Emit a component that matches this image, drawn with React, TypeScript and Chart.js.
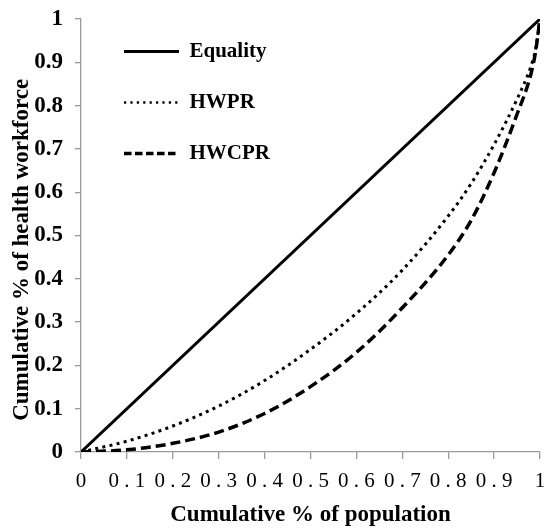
import React, { useEffect, useRef } from 'react';
import { Chart, registerables } from 'chart.js';

Chart.register(...registerables);

// Cumulative share of population (x) for the two Lorenz curves
const populationShare = [0, 0.1, 0.2, 0.3, 0.4, 0.5, 0.6, 0.7, 0.8, 0.85, 0.9, 0.95, 0.98, 0.99, 1];
// Cumulative share of health workforce
const hwprShare = [0, 0.025, 0.06, 0.106, 0.165, 0.237, 0.32, 0.42, 0.545, 0.62, 0.71, 0.815, 0.89, 0.928, 1];
const hwcprShare = [0, 0.005, 0.02, 0.046, 0.089, 0.151, 0.23, 0.333, 0.455, 0.535, 0.645, 0.78, 0.872, 0.922, 1];
// Line of equality
const equalityX = [0, 1];
const equalityY = [0, 1];

const seriesNames = ['Equality', 'HWPR', 'HWCPR'];
const xTitle = 'Cumulative % of population';
const yTitle = 'Cumulative % of health workforce';
const axisMin = 0;
const axisMax = 1;
const axisStep = 0.1;

const SERIF = '"Liberation Serif", "Times New Roman", serif';
const legendDash = [[], [2.2, 4.2], [7.5, 3.5]];
const legendWidth = [3, 2.5, 3.4];

function toPoints(xs: number[], ys: number[]) {
  return xs.map((x, i) => ({ x, y: ys[i] }));
}

function fmt(v: number) {
  return String(Number(Number(v).toFixed(1)));
}

const legendShift = {
  id: 'legendShift',
  afterLayout(chart: any) {
    const lg = chart.legend;
    if (lg) {
      lg.left = chart.chartArea.left + 13;
      lg.top = chart.chartArea.top - 8;
    }
  },
};

export default function App() {
  const ref = useRef<HTMLCanvasElement | null>(null);

  useEffect(() => {
    document.body.style.margin = '0';
    if (!ref.current) return;
    const defaultLabels = (Chart.defaults as any).plugins.legend.labels.generateLabels;
    const chart = new Chart(ref.current, {
      type: 'line',
      data: {
        datasets: [
          {
            label: seriesNames[0],
            data: toPoints(equalityX, equalityY),
            borderColor: '#000',
            backgroundColor: '#000',
            borderWidth: 3,
            pointRadius: 0,
            fill: false,
          },
          {
            label: seriesNames[1],
            data: toPoints(populationShare, hwprShare),
            borderColor: '#000',
            backgroundColor: '#000',
            borderWidth: 3,
            borderDash: [3, 4.3],
            pointRadius: 0,
            cubicInterpolationMode: 'monotone',
            fill: false,
          },
          {
            label: seriesNames[2],
            data: toPoints(populationShare, hwcprShare),
            borderColor: '#000',
            backgroundColor: '#000',
            borderWidth: 3.5,
            borderDash: [10, 5],
            pointRadius: 0,
            cubicInterpolationMode: 'monotone',
            fill: false,
          },
        ],
      },
      options: {
        animation: false,
        responsive: false,
        layout: { padding: { top: 19, right: 6, bottom: 0, left: 0 } },
        plugins: {
          tooltip: { enabled: false },
          legend: {
            position: 'chartArea',
            align: 'start',
            labels: {
              usePointStyle: true,
              pointStyle: 'line',
              pointStyleWidth: 55,
              padding: 30,
              color: '#000',
              font: { family: SERIF, size: 21, weight: 'bold' },
              generateLabels: (c: any) =>
                defaultLabels(c).map((it: any, i: number) => ({
                  ...it,
                  lineDash: legendDash[i],
                  lineWidth: legendWidth[i],
                  strokeStyle: '#000',
                  fillStyle: '#000',
                })),
            },
          },
        },
        scales: {
          x: {
            type: 'linear',
            min: axisMin,
            max: axisMax,
            afterFit: (s: any) => {
              s.height = 77;
              s.paddingLeft = 0;
              s.paddingRight = 0;
            },
            ticks: {
              stepSize: axisStep,
              color: '#000',
              padding: 10,
              maxRotation: 0,
              autoSkip: false,
              font: { family: SERIF, size: 21 },
              callback: (v: any) => {
                const s = fmt(v);
                return s.length > 1 ? s.split('').join(' ') : s;
              },
            },
            grid: { drawOnChartArea: false, drawTicks: true, tickLength: 7, color: '#9a9a9a', lineWidth: 1.3 },
            border: { color: '#9a9a9a', width: 1.3 },
            title: {
              display: true,
              text: xTitle,
              color: '#000',
              font: { family: SERIF, size: 23, weight: 'bold' },
              padding: { top: 0, bottom: 0 },
            },
          },
          y: {
            type: 'linear',
            min: axisMin,
            max: axisMax,
            afterFit: (s: any) => {
              s.width = 81;
              s.paddingTop = 0;
              s.paddingBottom = 0;
            },
            ticks: {
              stepSize: axisStep,
              color: '#000',
              padding: 12,
              autoSkip: false,
              font: { family: SERIF, size: 23, weight: 'bold' },
              callback: (v: any) => fmt(v),
            },
            grid: { drawOnChartArea: false, drawTicks: true, tickLength: 6, color: '#9a9a9a', lineWidth: 1.3 },
            border: { color: '#9a9a9a', width: 1.3 },
            title: {
              display: true,
              text: yTitle + '\u00a0\u00a0\u00a0\u00a0\u00a0',
              color: '#000',
              font: { family: SERIF, size: 23, weight: 'bold' },
              padding: { top: 8, bottom: 0 },
            },
          },
        },
      },
      plugins: [legendShift],
    } as any);
    return () => chart.destroy();
  }, []);

  return (
    <div style={{ width: 546, height: 529 }}>
      <canvas ref={ref} width={546} height={529} style={{ display: 'block' }} />
    </div>
  );
}
